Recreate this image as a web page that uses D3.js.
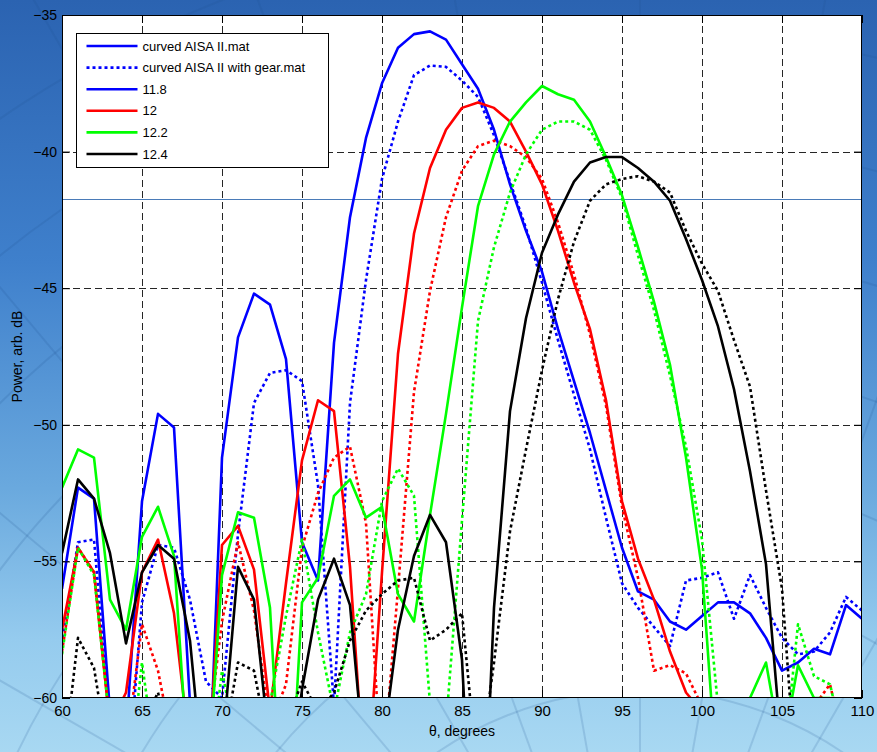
<!DOCTYPE html>
<html>
<head>
<meta charset="utf-8">
<script src="https://cdn.jsdelivr.net/npm/d3@7"></script>
<style>
  html, body { margin: 0; padding: 0; background: #4a8fd6; }
  svg { display: block; }
  text { font-family: "Liberation Sans", Arial, sans-serif; }
</style>
</head>
<body>
<svg id="chart" width="877" height="752"></svg>
<script>
// Scan angle, degrees (1-degree steps)
const theta = d3.range(60, 111);

// Received power, arb. dB — one array per frequency, with and without gear
const f118 = [-56.0,-52.3,-52.7,-60.5,-61.4,-52.8,-49.6,-50.1,-60.2,-66.0,-51.2,-46.8,-45.2,-45.6,-47.6,-54.3,-55.7,-47.0,-42.4,-39.5,-37.5,-36.2,-35.7,-35.6,-35.9,-36.8,-37.7,-39.2,-41.2,-42.9,-44.4,-46.5,-48.4,-50.3,-52.4,-54.5,-56.1,-56.4,-57.2,-57.5,-57.0,-56.5,-56.5,-56.9,-57.8,-59.0,-58.7,-58.2,-58.4,-56.6,-57.1];
const f118gear = [-58.0,-54.3,-54.2,-61.0,-64.0,-56.5,-54.4,-54.5,-56.4,-59.4,-60.0,-54.0,-49.2,-48.1,-48.0,-48.4,-52.2,-60.3,-49.2,-44.7,-41.0,-38.9,-37.2,-36.85,-36.9,-37.4,-38.0,-39.4,-41.1,-42.8,-44.8,-46.9,-48.9,-50.9,-53.4,-55.8,-56.7,-57.4,-58.1,-55.7,-55.6,-55.4,-57.1,-55.5,-56.7,-57.8,-58.4,-58.3,-57.6,-56.3,-56.8];
const f12 = [-57.5,-54.5,-55.4,-61.0,-59.8,-55.4,-54.2,-56.9,-62.0,-64.0,-54.4,-53.7,-55.3,-60.5,-55.8,-51.3,-49.1,-49.5,-55.2,-64.0,-55.4,-47.4,-43.0,-40.6,-39.2,-38.4,-38.2,-38.4,-38.9,-40.0,-41.2,-42.9,-44.8,-46.5,-49.1,-52.8,-54.9,-56.4,-58.3,-59.8,-60.5,-65.0,-65.0,-65.0,-65.0,-65.0,-65.0,-65.0,-65.0,-65.0,-65.0];
const f12gear = [-58.3,-54.5,-55.4,-61.0,-62.0,-57.3,-59.0,-62.0,-64.0,-62.0,-57.2,-54.3,-56.8,-61.0,-59.5,-54.5,-52.5,-51.2,-50.8,-53.6,-63.0,-56.0,-48.8,-45.1,-42.4,-40.7,-39.8,-39.6,-39.8,-40.2,-41.0,-42.6,-44.5,-46.7,-49.3,-53.0,-55.6,-59.0,-58.8,-59.1,-60.3,-64.0,-64.0,-64.0,-64.0,-64.0,-64.0,-60.3,-59.5,-62.0,-64.0];
const f122 = [-52.3,-50.9,-51.2,-56.4,-57.5,-54.1,-53.0,-54.8,-63.6,-64.0,-55.5,-53.2,-53.4,-56.7,-67.0,-56.5,-55.6,-52.6,-52.0,-53.4,-53.0,-56.2,-57.2,-53.3,-49.6,-45.7,-42.0,-40.1,-38.9,-38.2,-37.6,-37.9,-38.1,-38.9,-40.2,-41.6,-43.5,-45.5,-47.8,-51.2,-55.3,-63.5,-64.0,-60.0,-58.7,-62.0,-58.8,-60.0,-60.0,-63.0,-65.0];
const f122gear = [-58.4,-54.5,-55.5,-61.0,-64.0,-58.7,-63.0,-65.0,-65.0,-64.0,-59.0,-62.0,-64.0,-60.2,-57.0,-54.2,-57.6,-60.5,-57.6,-56.2,-52.8,-51.6,-52.6,-60.2,-61.0,-53.5,-46.2,-43.5,-41.5,-40.1,-39.2,-38.9,-38.9,-39.2,-40.3,-41.7,-43.8,-45.8,-48.2,-50.8,-54.2,-60.3,-64.0,-65.0,-64.0,-63.0,-57.3,-59.2,-59.5,-62.0,-64.0];
const f124 = [-54.7,-52.0,-52.7,-54.7,-58.0,-55.4,-54.4,-54.9,-57.9,-64.0,-62.0,-55.2,-56.4,-62.0,-64.0,-59.7,-56.4,-54.9,-56.6,-63.0,-62.0,-57.5,-54.8,-53.3,-54.3,-58.6,-70.0,-56.7,-49.5,-46.1,-43.7,-42.3,-41.1,-40.4,-40.2,-40.2,-40.6,-41.1,-41.8,-43.2,-44.7,-46.4,-48.7,-51.7,-55.1,-62.0,-66.0,-66.0,-66.0,-66.0,-66.0];
const f124gear = [-62.9,-57.8,-58.9,-62.5,-64.0,-61.0,-59.8,-62.0,-64.0,-64.0,-62.0,-58.7,-59.0,-62.0,-61.0,-59.4,-60.5,-59.8,-57.9,-56.8,-56.2,-55.7,-55.6,-57.9,-57.5,-56.9,-63.0,-58.7,-53.9,-50.9,-48.0,-45.4,-43.3,-41.8,-41.2,-41.0,-40.9,-41.1,-41.5,-42.9,-44.1,-45.1,-46.9,-48.6,-52.4,-56.0,-64.0,-66.0,-66.0,-66.0,-66.0];

// Horizontal reference level drawn across the axes
const refLevel = -41.75;

// Axis ticks
const xTicks = [60, 65, 70, 75, 80, 85, 90, 95, 100, 105, 110];
const yTicks = [-60, -55, -50, -45, -40, -35];

// Legend entries
const legendLabels = ["curved AISA II.mat", "curved AISA II with gear.mat", "11.8", "12", "12.2", "12.4"];
const legendColors = ["#0000ff", "#0000ff", "#0000ff", "#ff0000", "#00ff00", "#000000"];
const legendDotted = [false, true, false, false, false, false];

const series = [
  { values: f118, color: "#0000ff", dotted: false },
  { values: f118gear, color: "#0000ff", dotted: true },
  { values: f12, color: "#ff0000", dotted: false },
  { values: f12gear, color: "#ff0000", dotted: true },
  { values: f122, color: "#00ff00", dotted: false },
  { values: f122gear, color: "#00ff00", dotted: true },
  { values: f124, color: "#000000", dotted: false },
  { values: f124gear, color: "#000000", dotted: true }
];

const W = 877, H = 752;
const svg = d3.select("#chart");

// ---- Backdrop: blue gradient with a faint globe-like grid ----
const defs = svg.append("defs");
const grad = defs.append("linearGradient").attr("id", "bg").attr("x1", 0).attr("y1", 0).attr("x2", 0).attr("y2", 1);
[["0%", "#2b63b1"], ["35%", "#3f80cc"], ["65%", "#6aa9de"], ["85%", "#95cbee"], ["100%", "#a8d8f2"]]
  .forEach(([o, c]) => grad.append("stop").attr("offset", o).attr("stop-color", c));
svg.append("rect").attr("width", W).attr("height", H).attr("fill", "url(#bg)");

const deco = svg.append("g").attr("fill", "none").attr("stroke", "#1f4f8e").attr("stroke-opacity", 0.16).attr("stroke-width", 2);
const cx0 = 640, cy0 = 1050;
d3.range(250, 1400, 110).forEach(r => deco.append("circle").attr("cx", cx0).attr("cy", cy0).attr("r", r));
d3.range(-80, 81, 10).forEach(a => {
  const t = (a - 90) * Math.PI / 180;
  deco.append("line").attr("x1", cx0).attr("y1", cy0)
    .attr("x2", cx0 + 1600 * Math.cos(t)).attr("y2", cy0 + 1600 * Math.sin(t));
});

// ---- Scales ----
const x = d3.scaleLinear().domain([60, 110]).range([62, 862]);
const y = d3.scaleLinear().domain([-60, -35]).range([698, 15]);
const [x0, x1] = x.range();
const [y0, y1] = y.range();

defs.append("clipPath").attr("id", "plotClip")
  .append("rect").attr("x", x0).attr("y", y1).attr("width", x1 - x0).attr("height", y0 - y1);

// Plot background
svg.append("rect").attr("x", x0).attr("y", y1).attr("width", x1 - x0).attr("height", y0 - y1).attr("fill", "#ffffff");

// ---- Grid ----
const grid = svg.append("g").attr("stroke", "#262626").attr("stroke-width", 1).attr("stroke-dasharray", "7,4");
xTicks.slice(1, -1).forEach(v => grid.append("line")
  .attr("x1", Math.round(x(v)) + 0.5).attr("x2", Math.round(x(v)) + 0.5).attr("y1", y1).attr("y2", y0));
yTicks.slice(1, -1).forEach(v => grid.append("line")
  .attr("y1", Math.round(y(v)) + 0.5).attr("y2", Math.round(y(v)) + 0.5).attr("x1", x0).attr("x2", x1));

// Reference level
svg.append("line").attr("x1", x0).attr("x2", x1)
  .attr("y1", Math.round(y(refLevel)) + 0.5).attr("y2", Math.round(y(refLevel)) + 0.5)
  .attr("stroke", "#4a7bb8").attr("stroke-width", 1);

// ---- Curves ----
const line = d3.line().x((d, i) => x(theta[i])).y(d => y(d));
const curves = svg.append("g").attr("clip-path", "url(#plotClip)");
series.forEach(s => {
  curves.append("path").datum(s.values)
    .attr("d", line)
    .attr("fill", "none")
    .attr("stroke", s.color)
    .attr("stroke-width", 2.6)
    .attr("stroke-linejoin", "round")
    .attr("stroke-dasharray", s.dotted ? "3,3" : null);
});

// ---- Axes (box with inward ticks on all sides) ----
const tickLen = 8;
const axisG = svg.append("g");
axisG.append("g").attr("transform", `translate(0,${y0})`)
  .call(d3.axisBottom(x).tickValues(xTicks).tickSizeInner(-tickLen).tickSizeOuter(0).tickPadding(7))
  .call(g => g.select(".domain").remove())
  .call(g => g.selectAll("text").attr("font-size", 15).attr("fill", "#000").attr("font-family", "Liberation Sans, Arial, sans-serif"));
axisG.append("g").attr("transform", `translate(0,${y1})`)
  .call(d3.axisTop(x).tickValues(xTicks).tickSizeInner(-tickLen).tickSizeOuter(0).tickFormat(""))
  .call(g => g.select(".domain").remove());
axisG.append("g").attr("transform", `translate(${x0},0)`)
  .call(d3.axisLeft(y).tickValues(yTicks).tickSizeInner(-tickLen).tickSizeOuter(0).tickPadding(5))
  .call(g => g.select(".domain").remove())
  .call(g => g.selectAll("text").attr("font-size", 14).attr("fill", "#000").attr("font-family", "Liberation Sans, Arial, sans-serif"));
axisG.append("g").attr("transform", `translate(${x1},0)`)
  .call(d3.axisRight(y).tickValues(yTicks).tickSizeInner(-tickLen).tickSizeOuter(0).tickFormat(""))
  .call(g => g.select(".domain").remove());
axisG.selectAll(".tick line").attr("stroke", "#000");

svg.append("rect").attr("x", x0 + 0.5).attr("y", y1 + 0.5).attr("width", x1 - x0 - 1).attr("height", y0 - y1 - 1)
  .attr("fill", "none").attr("stroke", "#000").attr("stroke-width", 1);

// Axis titles
svg.append("text").attr("x", (x0 + x1) / 2).attr("y", 736).attr("text-anchor", "middle")
  .attr("font-size", 14).attr("fill", "#000").text("θ, degrees");
svg.append("text").attr("transform", `translate(22,${(y0 + y1) / 2}) rotate(-90)`).attr("text-anchor", "middle")
  .attr("font-size", 14).attr("fill", "#000").text("Power, arb. dB");

// ---- Legend ----
const lg = svg.append("g").attr("transform", "translate(76.5,33.5)");
lg.append("rect").attr("width", 252).attr("height", 134).attr("fill", "#fff").attr("stroke", "#000").attr("stroke-width", 1);
legendLabels.forEach((lab, i) => {
  const cy = 12.5 + i * 21.6;
  lg.append("line").attr("x1", 10).attr("x2", 61).attr("y1", cy).attr("y2", cy)
    .attr("stroke", legendColors[i]).attr("stroke-width", 2.6)
    .attr("stroke-dasharray", legendDotted[i] ? "3,3" : null);
  lg.append("text").attr("x", 66).attr("y", cy).attr("dy", "0.36em")
    .attr("font-size", 13).attr("fill", "#000").text(lab);
});
</script>
</body>
</html>
